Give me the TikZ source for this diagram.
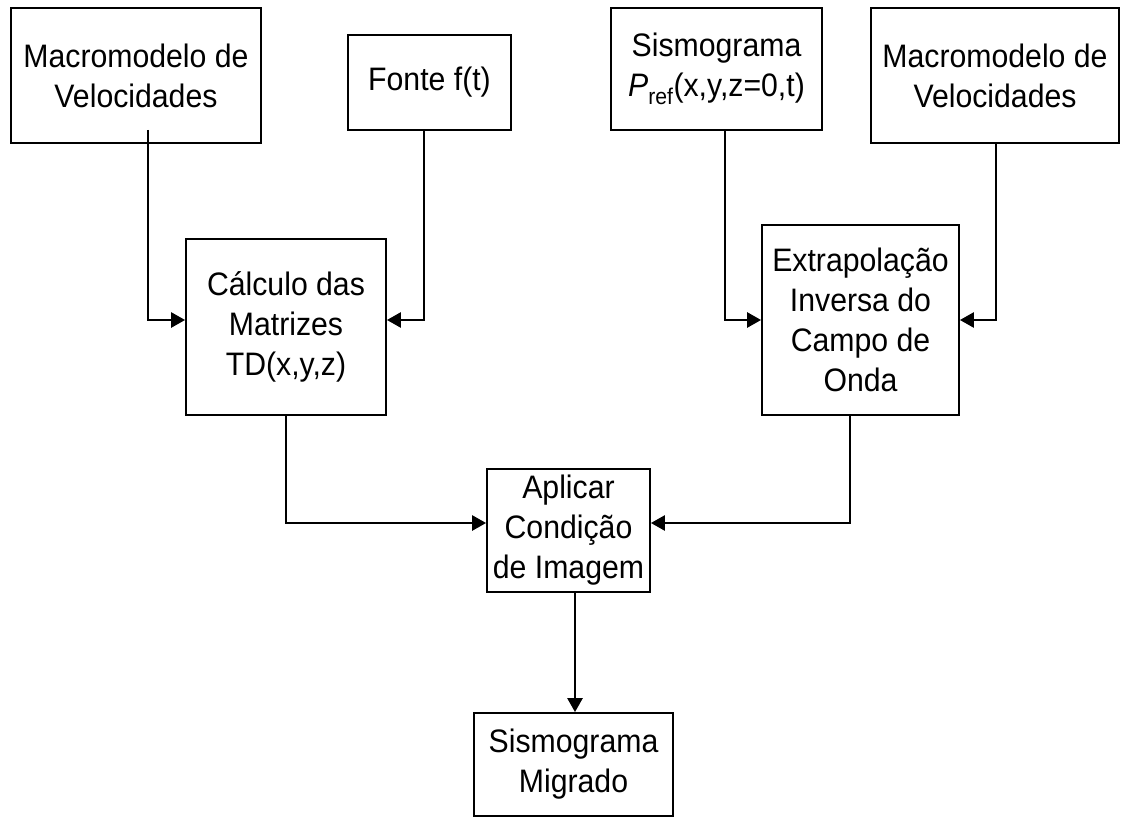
\documentclass[tikz,border=0pt]{standalone}
\usepackage{fontspec}
\setmainfont{Liberation Sans}[FakeStretch=0.93]
\usetikzlibrary{arrows.meta, positioning}

\begin{document}
\begin{tikzpicture}[
    x=1pt, y=-1pt,
    block/.style={rectangle, draw=black, line width=1.8pt, fill=white, align=center, inner sep=0pt, font=\fontsize{32.5}{40}\selectfont},
    arrow/.style={line width=2.6pt, -{Triangle[length=14pt, width=15pt]}}
]
\useasboundingbox (0,0) rectangle (1126,821);

% Nodes
\node (macroA) [block, minimum width=250pt, minimum height=135pt] at (136,75.5) {Macromodelo de\\Velocidades};
\node (fonte) [block, minimum width=163pt, minimum height=95pt] at (429.5,82.5) {Fonte f(t)};
\node (sismo) [block, minimum width=211pt, minimum height=122pt] at (716.5,69) {Sismograma\\\textit{P}\textsubscript{ref}(x,y,z=0,t)};
\node (macroB) [block, minimum width=248pt, minimum height=135pt] at (995,75.5) {Macromodelo de\\Velocidades};
\node (matrizes) [block, minimum width=200pt, minimum height=176pt] at (286,327) {Cálculo das\\Matrizes\\TD(x,y,z)};
\node (extrap) [block, minimum width=197pt, minimum height=190pt] at (860.5,320) {Extrapolação\\Inversa do\\Campo de\\Onda};
\node (condicao) [block, minimum width=163pt, minimum height=123pt] at (568.5,530.5) {Aplicar\\Condição\\de Imagem};
\node (migrado) [block, minimum width=199pt, minimum height=103pt] at (573.5,764.5) {Sismograma\\Migrado};

% Arrows
\draw [arrow] ([xshift=12pt, yshift=14pt]macroA.south) |- ([yshift=7pt]matrizes.west);
\draw [arrow] ([xshift=-5.5pt]fonte.south) |- ([yshift=7pt]matrizes.east);
\draw [arrow] ([xshift=8.5pt]sismo.south) |- (extrap.west);
\draw [arrow] ([xshift=1pt]macroB.south) |- (extrap.east);
\draw [arrow] (matrizes.south) |- ([yshift=7.5pt]condicao.west);
\draw [arrow] ([xshift=-10.5pt]extrap.south) |- ([yshift=7.5pt]condicao.east);
\draw [arrow] ([xshift=6.5pt]condicao.south) -- ([xshift=6.5pt]condicao.south |- migrado.north);

\end{tikzpicture}
\end{document}
